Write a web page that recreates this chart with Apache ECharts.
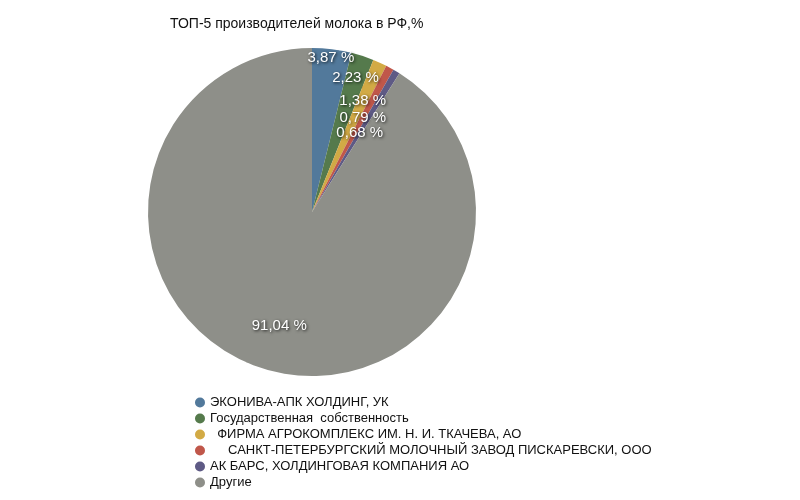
<!DOCTYPE html>
<html><head><meta charset="utf-8">
<script src="https://cdn.jsdelivr.net/npm/echarts@6/dist/echarts.min.js"></script>
<style>html,body{margin:0;background:#fff}#c{width:800px;height:500px}</style>
</head><body><div id="c"></div>
<script>
const categories = ['ЭКОНИВА-АПК ХОЛДИНГ, УК','Государственная  собственность','  ФИРМА АГРОКОМПЛЕКС ИМ. Н. И. ТКАЧЕВА, АО','     САНКТ-ПЕТЕРБУРГСКИЙ МОЛОЧНЫЙ ЗАВОД ПИСКАРЕВСКИ, ООО','АК БАРС, ХОЛДИНГОВАЯ КОМПАНИЯ АО','Другие'];
const values = [3.87, 2.23, 1.38, 0.79, 0.68, 91.04];
const colors = ['#52799b','#557a4c','#d2aa45','#c0574a','#5e5a85','#8e8f89'];
const labelScale = [1.83, 1.66, 1.44, 1.26, 1.09, 1.39];
const cx = 312, cy = 212;
const chart = echarts.init(document.getElementById('c'));
chart.setOption({
  animation:false,
  title:{text:'ТОП-5 производителей молока в РФ,%',left:165,top:12,textStyle:{fontSize:14,fontWeight:'normal',color:'#111',fontFamily:'Liberation Sans'}},
  legend:{orient:'vertical',left:190,top:391,itemGap:3,itemWidth:10,itemHeight:10,icon:'circle',
    textStyle:{fontSize:13,color:'#111',fontFamily:'Liberation Sans'},data:categories},
  series:[{type:'pie',center:[cx,cy],radius:164,startAngle:90,clockwise:true,
    data:categories.map((n,i)=>({name:n,value:values[i],itemStyle:{color:colors[i]}})),
    label:{position:'inside',formatter:p=>p.value.toFixed(2).replace('.',',')+' %',color:'#fff',fontSize:15,
      fontFamily:'Liberation Sans',textShadowColor:'rgba(0,0,0,0.85)',textShadowBlur:3,textShadowOffsetX:1,textShadowOffsetY:1},
    labelLayout:function(p){
      const r=p.labelRect, k=labelScale[p.dataIndex];
      const x=r.x+r.width/2, y=r.y+r.height/2;
      return {x:cx+(x-cx)*k, y:cy+(y-cy)*k, align:'center', verticalAlign:'middle'};
    }
  }]
});
</script></body></html>
